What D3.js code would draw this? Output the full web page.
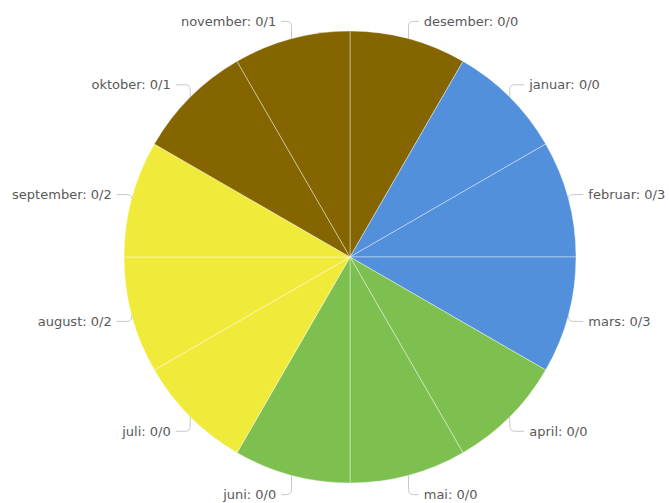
<!DOCTYPE html>
<html>
<head>
<meta charset="utf-8">
<script src="https://cdn.jsdelivr.net/npm/d3@7"></script>
<style>
  html, body { margin: 0; padding: 0; background: #ffffff; }
  svg { display: block; }
</style>
</head>
<body>
<svg id="chart" width="669" height="503"></svg>
<script>
// ---- data ----
const months = ["desember", "januar", "februar", "mars", "april", "mai",
                "juni", "juli", "august", "september", "oktober", "november"];
const sliceValues = [1, 1, 1, 1, 1, 1, 1, 1, 1, 1, 1, 1];
const labelValues = ["0/0", "0/0", "0/3", "0/3", "0/0", "0/0",
                     "0/0", "0/0", "0/2", "0/2", "0/1", "0/1"];
const sliceColors = ["#856500", "#5290dc", "#5290dc", "#5290dc", "#7dc050", "#7dc050",
                     "#7dc050", "#f0eb3a", "#f0eb3a", "#f0eb3a", "#856500", "#856500"];

const data = months.map((m, i) => ({ month: m, value: sliceValues[i], label: labelValues[i], color: sliceColors[i] }));

// ---- layout ----
const svg = d3.select("#chart");
const cx = 350, cy = 257, r = 226, rl = 245;

const pie = d3.pie().value(d => d.value).sort(null);
const arc = d3.arc().innerRadius(0).outerRadius(r);
const arcs = pie(data);

const g = svg.append("g").attr("transform", `translate(${cx},${cy})`);

g.selectAll("path.slice")
  .data(arcs)
  .enter().append("path")
  .attr("class", "slice")
  .attr("d", arc)
  .attr("fill", d => d.data.color)
  .attr("stroke", "rgba(255,255,255,0.4)")
  .attr("stroke-width", 1);

// labels and connectors
arcs.forEach(d => {
  const a = (d.startAngle + d.endAngle) / 2;
  const s = Math.sin(a), c = Math.cos(a);
  const side = s >= 0 ? 1 : -1;
  const px = r * s, py = -r * c;
  const ly = -rl * c + 1;
  const lx = side * (rl * Math.abs(s) + 10 * c * c);
  const endX = lx - side * 4;
  const dy = ly - py;
  const turn = Math.min(Math.abs(dy), 5) * Math.sign(dy);
  const path = d3.path();
  path.moveTo(px, py);
  path.lineTo(px, ly - turn);
  path.quadraticCurveTo(px, ly, px + side * Math.min(5, Math.abs(endX - px)), ly);
  path.lineTo(endX, ly);
  g.append("path")
    .attr("d", path.toString())
    .attr("fill", "none")
    .attr("stroke", "#c8c8c8")
    .attr("stroke-width", 1);
  g.append("text")
    .attr("x", lx + side * 1)
    .attr("y", ly)
    .attr("dy", "0.35em")
    .attr("text-anchor", side > 0 ? "start" : "end")
    .attr("font-family", "'DejaVu Sans', Verdana, sans-serif")
    .attr("font-size", 13)
    .attr("fill", "#595959")
    .text(`${d.data.month}: ${d.data.label}`);
});
</script>
</body>
</html>
